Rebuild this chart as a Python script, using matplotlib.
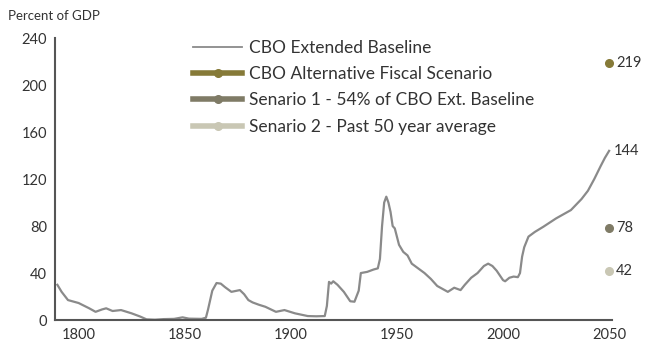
import matplotlib
matplotlib.use("Agg")
import matplotlib.pyplot as plt
from matplotlib.lines import Line2D

plt.rcParams['font.family'] = ['Lato', 'DejaVu Sans']

# federal debt held by the public, percent of GDP
years = [1790, 1792, 1795, 1800, 1805, 1808, 1811, 1813, 1816, 1820, 1825, 1829,
         1832, 1836, 1840, 1845, 1849, 1852, 1858, 1860, 1861, 1863, 1865, 1867,
         1869, 1872, 1876, 1878, 1880, 1882, 1885, 1888, 1893, 1897, 1902, 1908,
         1912, 1916, 1917, 1918, 1919, 1920, 1922, 1925, 1928, 1930, 1932, 1933,
         1936, 1939, 1941, 1942, 1943, 1944, 1945, 1946, 1947, 1948, 1949, 1951,
         1953, 1955, 1957, 1960, 1963, 1966, 1969, 1972, 1974, 1977, 1980, 1982,
         1985, 1988, 1991, 1993, 1995, 1997, 2000, 2001, 2003, 2005, 2007, 2008,
         2009, 2010, 2012, 2015, 2019, 2025, 2032, 2037, 2040, 2043, 2046, 2048,
         2050]
baseline = [30, 24, 17, 14.5, 10, 7, 9, 10, 7.7, 8.5, 5.7, 3,
            0.6, 0.3, 0.8, 1, 2.3, 1.2, 1, 2, 9, 25, 31.5, 31,
            28, 24, 25.5, 22, 17, 15, 13, 11.3, 7, 8.5, 5.7, 3.4,
            3.2, 3.4, 12, 32.5, 31, 33, 30, 24, 16, 15.6, 25, 40,
            41, 43, 44, 52, 80, 100, 105, 100, 92, 80, 78, 64,
            58, 55, 48, 44, 40, 35, 29, 26, 24, 27.5, 25.5, 30,
            36, 40, 46, 48, 46, 42, 34, 33, 36, 37, 36.5, 40,
            54, 62, 71, 75, 79.4, 86.5, 93.6, 103, 110, 120, 131, 138,
            144]

scenario_names = ['CBO Alternative Fiscal Scenario',
                  'Senario 1 - 54% of CBO Ext. Baseline',
                  'Senario 2 - Past 50 year average']
scenario_2050 = [219, 78, 42]
scenario_colors = ['#867a38', '#7f7b66', '#c9c7b4']
line_color = '#8a8a8a'

fig = plt.figure(figsize=(6.5, 3.46), dpi=100)
ax = fig.add_axes([0.085, 0.075, 0.857, 0.815])

ax.plot(years, baseline, color=line_color, lw=1.6, solid_joinstyle='round')
ax.annotate('%d' % baseline[-1], (years[-1], baseline[-1]), xytext=(3, 0),
            textcoords='offset points', va='center', ha='left', fontsize=10.5,
            color='#333333', annotation_clip=False)

for val, col in zip(scenario_2050, scenario_colors):
    ax.plot([2050], [val], 'o', color=col, ms=5.5, clip_on=False, zorder=5)
    ax.annotate('%d' % val, (2050, val), xytext=(5, 0), textcoords='offset points',
                va='center', ha='left', fontsize=10.5, color='#333333',
                annotation_clip=False)

ax.set_xlim(1789, 2051.5)
ax.set_ylim(0, 240)
ax.set_yticks(range(0, 241, 40))
ax.set_xticks(range(1800, 2051, 50))
ax.tick_params(length=0, labelsize=10.5, labelcolor='#333333', pad=6)
for s in ['top', 'right']:
    ax.spines[s].set_visible(False)
for s in ['left', 'bottom']:
    ax.spines[s].set_color('#555555')
    ax.spines[s].set_linewidth(1.5)

fig.text(0.012, 0.955, 'Percent of GDP', fontsize=9.5, color='#333333',
         va='center', ha='left')

handles = [Line2D([], [], color=line_color, lw=1.3)]
for col in scenario_colors:
    handles.append(Line2D([], [], color=col, lw=4, marker='o', ms=5.5))
labels = ['CBO Extended Baseline'] + scenario_names
ax.legend(handles, labels, loc='upper left', bbox_to_anchor=(0.22, 1.05),
          frameon=False, fontsize=12.5, handlelength=2.8, handletextpad=0.4,
          labelspacing=0.6, labelcolor='#333333')

fig.savefig('out.png', dpi=100, facecolor='white')
